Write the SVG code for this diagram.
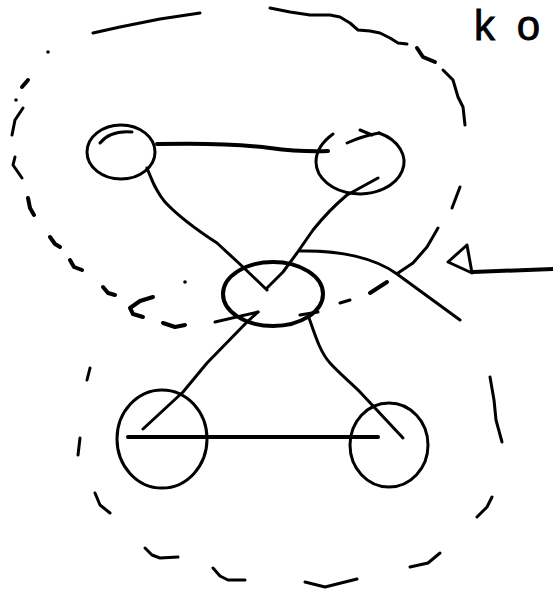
<svg xmlns="http://www.w3.org/2000/svg" width="553" height="596" viewBox="0 0 553 596">
<style>
.ink{fill:none;stroke:#000;stroke-width:3;stroke-linecap:round;stroke-linejoin:round}
.thick{stroke-width:4}
.dot{fill:#000;stroke:none}
.lbl{font-family:"Liberation Sans",Arial,sans-serif;font-size:42px;fill:#000;stroke:#000;stroke-width:0.8}
</style>
<rect width="553" height="596" fill="#fff"/>
<g id="boundary-top">
<path class="ink" d="M93,33 L120,27 L160,19 L200,13" stroke-width="2.5"/>
<path class="ink" d="M270,8 L290,12 L310,15 L330,15 L340,17 L350,23 L358,30 L370,31 L380,33 L390,38 L398,43 L407,44"/>
<path class="ink thick" d="M417,48 L423,57 L435,62"/>
<path class="ink" d="M443,70 L453,80 L458,97 L463,107 L465,125"/>
<path class="ink" d="M460,187 L452,208"/>
<path class="ink" d="M438,228 L427,247 L413,263 L398,273"/>
<path class="ink thick" d="M387,282 L370,293"/>
<path class="ink" d="M350,300 L340,303"/>
<circle class="dot" cx="48" cy="52" r="1.8"/>
<path class="ink thick" d="M28,80 L22,87"/>
<circle class="dot" cx="16" cy="100" r="1.8"/>
<path class="ink" d="M23,108 L15,120 L12,135"/>
<path class="ink" d="M15,157 L13,165 L22,178"/>
<path class="ink thick" d="M28,198 L30,208 L34,215"/>
<path class="ink thick" d="M50,237 L55,244 L60,247"/>
<path class="ink thick" d="M70,260 L74,267 L82,270"/>
<path class="ink thick" d="M103,287 L108,293 L115,295"/>
<path class="ink thick" d="M153,297 L140,301 L130,308 L133,314 L143,317"/>
<path class="ink thick" d="M163,323 L175,327 L185,325"/>
<circle class="dot" cx="185" cy="282" r="1.8"/>
</g>
<g id="boundary-bottom">
<path class="ink" d="M90,368 L87,380"/>
<path class="ink" d="M80,438 L78,455"/>
<path class="ink" d="M95,493 L100,505 L110,513"/>
<path class="ink" d="M145,548 L152,555 L160,558 L178,557"/>
<path class="ink" d="M213,568 L220,576 L228,580 L245,580"/>
<path class="ink" d="M305,582 L325,587 L357,579"/>
<path class="ink" d="M410,567 L428,563 L440,553"/>
<path class="ink" d="M477,517 L487,507 L492,497"/>
<path class="ink" d="M490,377 L494,400 L496,420 L502,442"/>
</g>
<g id="connectors">
<path class="ink thick" d="M157,144 C200,143 240,144 270,148 C285,150 300,152 328,151"/>
<path class="ink" d="M147,168 C152,180 155,190 165,202 C180,218 200,232 217,243 L243,267 L267,290"/>
<path class="ink" d="M378,178 L347,195 C335,205 325,215 313,230 L297,253 L283,272 L267,288"/>
<path class="ink" d="M300,251 C340,250 375,258 397,274 L460,320"/>
<path class="ink" d="M215,322 L258,312"/>
<path class="ink" d="M258,312 L247,322 L207,363 L183,392 L143,429"/>
<path class="ink" d="M300,315 L318,312"/>
<path class="ink" d="M308,315 C315,335 320,352 330,363 C340,374 350,382 360,392 L403,438"/>
<path class="ink thick" d="M128,437 L378,437"/>
<path class="ink" d="M467,245 L448,262 L472,273 Z" stroke-width="5"/>
<path class="ink thick" d="M473,272 L553,269"/>
</g>
<g id="n1">
<ellipse class="ink" cx="121" cy="152" rx="34" ry="27"/>
<path class="ink" d="M100,143 C108,133 120,131 132,132"/>
</g>
<g id="n2">
<path class="ink" d="M333,134 C322,142 316,152 316,162 A44,32 0 1 0 379,133"/>
<path class="ink" d="M347,143 C358,138 368,135 379,133"/>
<path class="ink" d="M360,130 L372,135"/>
</g>
<g id="n3">
<ellipse class="ink thick" cx="273" cy="294" rx="50" ry="32"/>
</g>
<g id="n4">
<ellipse class="ink" cx="162" cy="439" rx="45" ry="49"/>
</g>
<g id="n5">
<ellipse class="ink" cx="389" cy="445" rx="39" ry="42"/>
</g>
<g id="label">
<text class="lbl" x="474" y="40" textLength="66" lengthAdjust="spacing">ko</text>
</g>
</svg>
